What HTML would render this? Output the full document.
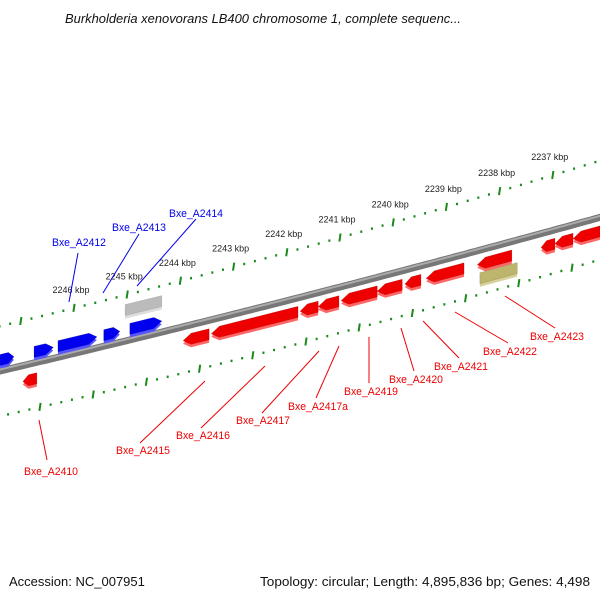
<!DOCTYPE html>
<html><head><meta charset="utf-8"><style>
html,body{margin:0;padding:0;background:#fff}
svg{display:block}
text{font-family:"Liberation Sans",sans-serif}
</style></head><body>
<svg id="map" width="600" height="600" viewBox="0 0 600 600" xmlns="http://www.w3.org/2000/svg">
<text x="65" y="23" font-size="13" font-style="italic" fill="#111" textLength="396" lengthAdjust="spacingAndGlyphs">Burkholderia xenovorans LB400 chromosome 1, complete sequenc...</text>
<text x="9" y="586" font-size="13" fill="#111">Accession: NC_007951</text>
<text x="590" y="586" font-size="13" fill="#111" text-anchor="end" textLength="330" lengthAdjust="spacingAndGlyphs">Topology: circular; Length: 4,895,836 bp; Genes: 4,498</text>
<g id="tracks"></g>
<g id="genes"></g>
<g id="labels"></g>
</svg>
<script>
const kbpLabels = [2246, 2245, 2244, 2243, 2242, 2241, 2240, 2239, 2238, 2237];
const geneNames = ["g0","g1","Bxe_A2412","Bxe_A2413","Bxe_A2414","gray","Bxe_A2415","Bxe_A2416","Bxe_A2417","Bxe_A2417a","Bxe_A2419","Bxe_A2420","Bxe_A2421","Bxe_A2422","Bxe_A2423","khaki","r1","r2","r3","Bxe_A2410"];
const geneStart = [2247.39, 2246.75, 2246.30, 2245.44, 2244.95, 2245.04, 2243.95, 2243.42, 2241.75, 2241.41, 2240.98, 2240.30, 2239.78, 2239.38, 2238.42, 2238.37, 2237.22, 2236.96, 2236.62, 2246.96];
const geneEnd   = [2247.13, 2246.39, 2245.57, 2245.14, 2244.35, 2244.35, 2243.46, 2241.79, 2241.41, 2241.02, 2240.30, 2239.83, 2239.48, 2238.67, 2237.77, 2237.67, 2236.96, 2236.62, 2236.11, 2246.70];
const geneStrand = [1,1,1,1,1,1,-1,-1,-1,-1,-1,-1,-1,-1,-1,-1,-1,-1,-1,-1];
const geneRow = [1,1,1,1,1,2,1,1,1,1,1,1,1,1,1,2,1,1,1,1];
const geneKind = ["cds","cds","cds","cds","cds","gray","cds","cds","cds","cds","cds","cds","cds","cds","cds","khaki","cds","cds","cds","cds"];
const labelNames = ["Bxe_A2412","Bxe_A2413","Bxe_A2414","Bxe_A2410","Bxe_A2415","Bxe_A2416","Bxe_A2417","Bxe_A2417a","Bxe_A2419","Bxe_A2420","Bxe_A2421","Bxe_A2422","Bxe_A2423"];
const labelStrand = [1,1,1,-1,-1,-1,-1,-1,-1,-1,-1,-1,-1];

const NS="http://www.w3.org/2000/svg";
function xOf(k){return 74+(2246-k)*53.2;}
function yUp(x){return 326-0.24*x-0.00006*x*x;}
function yBb(x){return 371-0.235*x-0.000035*x*x;}
function yLo(x){return 416-0.225*x-0.00006*x*x;}
function mk(tag,attrs,parent){const e=document.createElementNS(NS,tag);for(const k in attrs)e.setAttribute(k,attrs[k]);parent.appendChild(e);return e;}
const tracks=document.getElementById('tracks'), genesG=document.getElementById('genes'), labelsG=document.getElementById('labels');

let d="";for(let x=-5;x<=605;x+=5){d+=(x===-5?"M":"L")+x+","+yBb(x).toFixed(1);}
const bb1=mk('path',{d:d,stroke:'#777',"stroke-width":7,fill:'none'},tracks);


let d2="";for(let x=-5;x<=605;x+=5){d2+=(x===-5?"M":"L")+x+","+(yBb(x)-1.5).toFixed(1);}
mk('path',{d:d2,stroke:'#aaa',"stroke-width":2,fill:'none'},tracks);

function tickTrack(yf,x0,name){
  const g=mk('g',{},tracks);
  
  
  const step=53.2/5;
  for(let i=-12;i<70;i++){
    const x=x0+i*step; if(x<-2||x>602)continue;
    const y=yf(x);
    if(i%5===0) mk('line',{x1:x+0.6,y1:y-4,x2:x-0.6,y2:y+4,stroke:'#1a8a1a',"stroke-width":2},g);
    else mk('rect',{x:x-1,y:y-1,width:2,height:2.4,fill:'#1a8a1a'},g);
  }
}
tickTrack(yUp,xOf(2246),'outer-tick-track');
tickTrack(yLo,40,'inner-tick-track');

kbpLabels.forEach(k=>{
  const x=xOf(k);
  const t=mk('text',{x:x-3,y:yUp(x)-15,"font-size":9,fill:'#222',"text-anchor":'middle'},labelsG);
  t.textContent=k+" kbp";
  
  
});

const colors={cds:{1:['#0000ee','#5555ff','#0000aa'],'-1':['#ee0000','#ff6666','#aa0000']},gray:['#bbbbbb','#dddddd','#999'],khaki:['#bdb46e','#d8d09a','#8a8450']};
function geneShape(x1,x2,off,h,dir,arrow){
  const a=arrow?Math.min(8,(x2-x1)*0.4):0;
  const yc=x=>yBb(x)+off;
  const pts=[];
  if(dir>0){
    pts.push([x1,yc(x1)-h/2],[x2-a,yc(x2-a)-h/2],[x2,yc(x2)],[x2-a,yc(x2-a)+h/2],[x1,yc(x1)+h/2]);
  }else{
    pts.push([x1,yc(x1)],[x1+a,yc(x1+a)-h/2],[x2,yc(x2)-h/2],[x2,yc(x2)+h/2],[x1+a,yc(x1+a)+h/2]);
  }
  return pts;
}
function ptsStr(p,dy){return p.map(q=>q[0].toFixed(1)+","+(q[1]+dy).toFixed(1)).join(" ");}
geneNames.forEach((n,i)=>{
  const xa=xOf(geneStart[i]), xb=xOf(geneEnd[i]);
  const x1=Math.min(xa,xb), x2=Math.max(xa,xb);
  const s=geneStrand[i];
  let off = s>0 ? (geneRow[i]===1?-11:-31) : (geneRow[i]===1?14:28);
  if(n==="Bxe_A2410") off=16;
  let c = geneKind[i]==='cds'?colors.cds[s]:colors[geneKind[i]];
  const arrow=geneKind[i]==='cds';
  const p=geneShape(x1,x2,off,11,s,arrow);
  const g=mk('g',{},genesG);
  
  
  mk('polygon',{points:ptsStr(p,3),fill:c[1]},g);
  mk('polygon',{points:ptsStr(p,0),fill:c[0]},g);
  mk('polygon',{points:ptsStr(p,0),fill:'none',stroke:c[2],"stroke-width":0.5,"stroke-opacity":0.6},g);
});

const labelTextX=[52,112,169,24,116,176,236,288,344,389,434,483,530];
const labelTextY=[246,231,217,475,454,439,424,410,395,383,370,355,340];
const leaderFromX=[78,139,196,39,205,265,319,339,369,401,423,455,505];
const leaderFromY=[253,234,219,420,381,366,351,346,337,328,321,312,296];
const leaderToX=[69,103,137,47,140,201,262,316,369,414,459,508,555];
const leaderToY=[302,293,286,460,443,428,413,398,383,371,358,343,328];
labelNames.forEach((n,i)=>{
  const col=labelStrand[i]>0?'#0000ee':'#ee0000';
  const l=mk('line',{x1:leaderFromX[i],y1:leaderFromY[i],x2:leaderToX[i],y2:leaderToY[i],stroke:col,"stroke-width":1},labelsG);
  
  
  const t=mk('text',{x:labelTextX[i],y:labelTextY[i],"font-size":11,fill:col,textLength:(n.length===10?60:54),lengthAdjust:'spacingAndGlyphs'},labelsG);
  t.textContent=n;
  
  
});
</script>
</body></html>
